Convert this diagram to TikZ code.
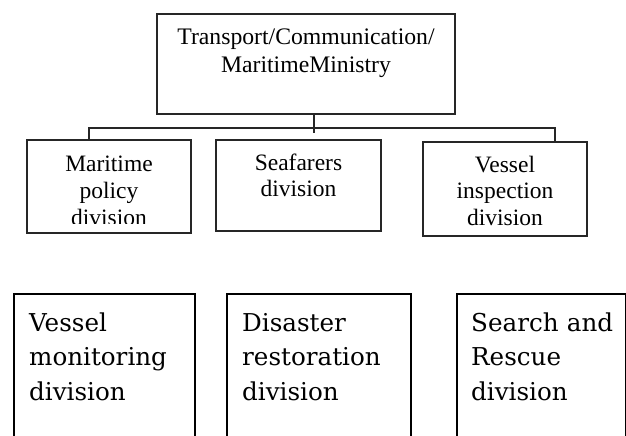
\documentclass[tikz,border=0pt]{standalone}
\usepackage{fontspec}
\setmainfont{Liberation Serif}
\newfontfamily\lowfont{DejaVu Serif}
\begin{document}
\begin{tikzpicture}[x=1pt,y=-1pt,
  topbox/.style={draw=black!85, line width=1.2pt, rectangle, inner sep=0pt},
  lowbox/.style={draw=black, line width=1.8pt, rectangle, inner sep=0pt},
  toptxt/.style={font=\fontsize{23.7}{28}\selectfont, align=center, anchor=base, inner sep=0pt, text width=290pt},
  midtxt/.style={font=\fontsize{23.5}{26.4}\selectfont, align=center, anchor=base, inner sep=0pt, text width=160pt},
  lowtxt/.style={font=\lowfont\fontsize{24.6}{34.5}\selectfont, align=left, anchor=base west, inner sep=0pt, text width=175pt},
  conn/.style={draw=black!85, line width=1.2pt}
]
\clip (0,0) rectangle (626,436);
% top box
\node[topbox, minimum width=298pt, minimum height=100pt] (top) at (306,64) {};
\node[toptxt] (toptext) at (306,45) {Transport/Communication/\\MaritimeMinistry};
% middle row
\node[topbox, minimum width=164pt, minimum height=93pt] (b1) at (109,186.5) {};
\node[topbox, minimum width=165pt, minimum height=91pt] (b2) at (298.5,185.5) {};
\node[topbox, minimum width=164pt, minimum height=94pt] (b3) at (505,189) {};
\begin{scope}
\clip (27,140) rectangle (191,223);
\node[midtxt, font=\fontsize{23.5}{27}\selectfont] (t1) at (109,171) {Maritime\\policy\\division};
\end{scope}
\node[midtxt] (t2) at (298.5,170.5) {Seafarers\\division};
\node[midtxt] (t3) at (505,172.5) {Vessel\\inspection\\division};
% connectors
\coordinate (tk) at (314,133);
\coordinate (bl) at (89,128);
\coordinate (br) at (555,128);
\draw[conn] (top.south -| tk) -- (tk);
\draw[conn] (b1.north -| bl) -- (bl) -- (br) -- (b3.north -| br);
% bottom row
\node[lowbox, minimum width=181pt, minimum height=160pt, anchor=north west] (c1) at (13,293) {};
\node[lowbox, minimum width=184pt, minimum height=160pt, anchor=north west] (c2) at (226,293) {};
\node[lowbox, minimum width=169pt, minimum height=160pt, anchor=north west] (c3) at (456,293) {};
\node[lowtxt] (u1) at (29,331) {Vessel\\monitoring\\division};
\node[lowtxt] (u2) at (242,331) {Disaster\\restoration\\division};
\node[lowtxt] (u3) at (471,331) {Search and\\Rescue\\division};
\end{tikzpicture}
\end{document}
